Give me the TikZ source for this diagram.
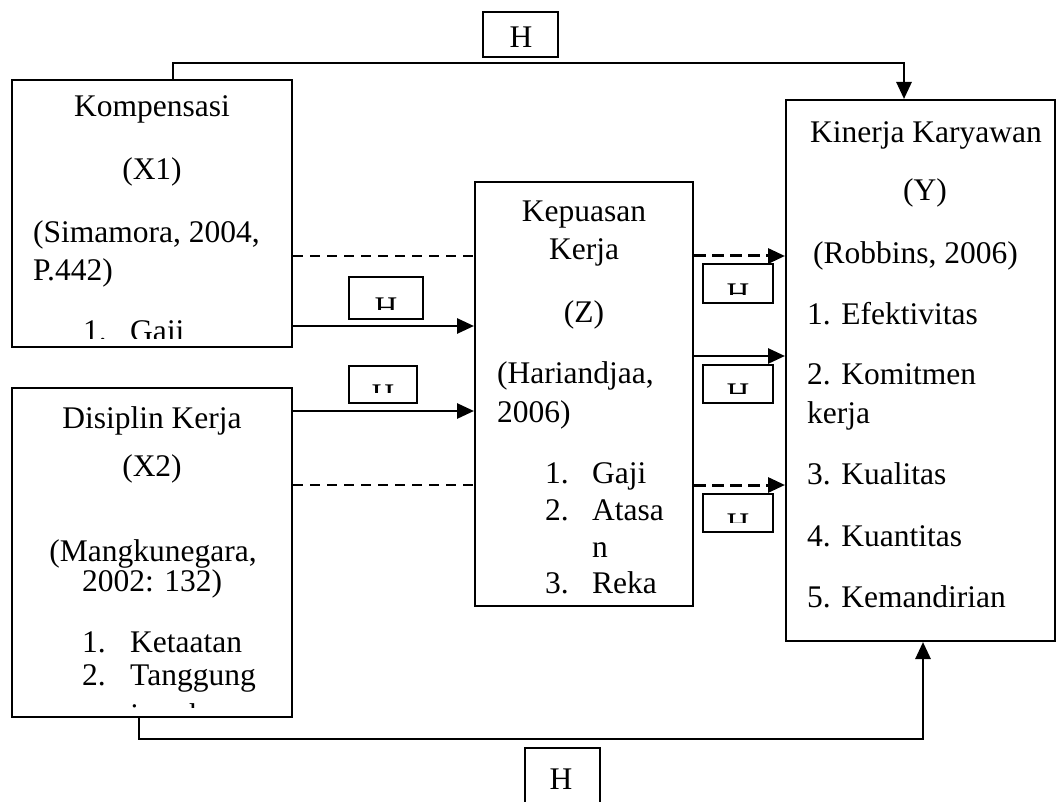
\documentclass[tikz,border=0pt]{standalone}
\usepackage{fontspec}
\setmainfont{Liberation Serif}
\usetikzlibrary{positioning,arrows.meta,calc}

\tikzset{
  >={Triangle[length=17pt,width=15pt]},
  every node/.style={font=\fontsize{31.5}{36}\selectfont},
  % --- nodes
  box/.style  = {draw, line width=2pt, inner sep=0pt},
  hbox/.style = {draw, line width=1.8pt, inner sep=0pt},
  txt/.style  = {anchor=base, inner sep=0pt},
  ltxt/.style = {anchor=base west, inner sep=0pt},
  % --- edges
  e/.style    = {->, line width=2.8pt},
  ed/.style   = {->, line width=3pt, dash pattern=on 12pt off 6pt},
  dl/.style   = {line width=1.6pt, dash pattern=on 10pt off 7pt},
}

\begin{document}
\begin{tikzpicture}[x=1pt,y=-1pt]
  \clip (0,0) rectangle (1057,802);
  \node[box, minimum width=280pt, minimum height=267pt] (x1) at (152,213.5) {};
  \node[box, minimum width=280pt, minimum height=329pt] (x2) at (152,552.5) {};
  \node[box, minimum width=218pt, minimum height=424pt] (z) at (584,394) {};
  \node[box, minimum width=269pt, minimum height=541pt] (y) at (920.5,370.5) {};

  % text of the boxes, cut where the box ends
  \begin{scope}
    \clip (x1.north west) rectangle (x1.east |- 0,338);
    \node[txt] (x1a) at (152,117) {Kompensasi};
    \node[txt] (x1b) at (152,180) {(X1)};
    \node[ltxt] (x1c) at (33,243) {(Simamora, 2004,};
    \node[ltxt] (x1d) at (33,280) {P.442)};
    \node[ltxt] (x1e) at (83,341) {1.};
    \node[ltxt] (x1f) at (130,341) {Gaji};
  \end{scope}
  \begin{scope}
    \clip (x2.north west) rectangle (x2.east |- 0,707);
    \node[txt] (x2a) at (152,428) {Disiplin Kerja};
    \node[txt] (x2b) at (152,476) {(X2)};
    \node[txt] (x2c) at (153,561) {(Mangkunegara,};
    \node[txt] (x2d) at (152,591) {2002: 132)};
    \node[ltxt] (x2e) at (82,652) {1.};
    \node[ltxt] (x2f) at (130,652) {Ketaatan};
    \node[ltxt] (x2g) at (82,685) {2.};
    \node[ltxt] (x2h) at (130,685) {Tanggung};
    \node[ltxt] (x2i) at (130,725) {jawab};
  \end{scope}
  \begin{scope}
    \clip (z.north west) rectangle (z.east |- 0,600);
    \node[txt] (za) at (584,222) {Kepuasan};
    \node[txt] (zb) at (584,260) {Kerja};
    \node[txt] (zc) at (584,322) {(Z)};
    \node[ltxt] (zd) at (497,383) {(Hariandjaa,};
    \node[ltxt] (ze) at (497,422) {2006)};
    \node[ltxt] (zf) at (545,483) {1.};
    \node[ltxt] (zg) at (592,483) {Gaji};
    \node[ltxt] (zh) at (545,520) {2.};
    \node[ltxt] (zi) at (592,520) {Atasa};
    \node[ltxt] (zj) at (592,557) {n};
    \node[ltxt] (zk) at (545,593) {3.};
    \node[ltxt] (zl) at (592,593) {Reka};
  \end{scope}
  \node[txt] (ya) at (926,143) {Kinerja Karyawan};
  \node[txt] (yb) at (925,201) {(Y)};
  \node[ltxt] (yc) at (813,264) {(Robbins, 2006)};
  \node[ltxt] (yd) at (807,324) {1. Efektivitas};
  \node[ltxt] (ye) at (807,384) {2. Komitmen};
  \node[ltxt] (yf) at (807,423) {kerja};
  \node[ltxt] (yg) at (807,484) {3. Kualitas};
  \node[ltxt] (yh) at (807,546) {4. Kuantitas};
  \node[ltxt] (yi) at (807,607) {5. Kemandirian};

  % hypothesis boxes
  \node[hbox, minimum width=75pt, minimum height=45pt] (ht) at (520.5,34.5) {};
  \node[hbox, minimum width=74pt, minimum height=42pt] (h1) at (386,298) {};
  \node[hbox, minimum width=68pt, minimum height=37pt] (h2) at (383,384.5) {};
  \node[hbox, minimum width=70pt, minimum height=39pt] (h3) at (738,283.5) {};
  \node[hbox, minimum width=70pt, minimum height=38pt] (h4) at (738,384) {};
  \node[hbox, minimum width=70pt, minimum height=38pt] (h5) at (738,513) {};
  \node[hbox, minimum width=75pt, minimum height=70pt] (hb) at (562.5,783) {};
  \node[txt] (htt) at (521,48) {H};
  \node[txt] (hbt) at (561,789) {H};
  \foreach \h/\cx/\base/\cut in {h1/386/318/309,h2/383/405/392,h3/738/304/294,
                                 h4/738/404/393,h5/738/534/522}
  {
    \begin{scope}
      \clip (\h.north west) rectangle (\h.east |- 0,\cut);
      \node[txt] (\h t) at (\cx,\base) {H};
    \end{scope}
  }

  \foreach \a/\b/\yy/\s in {x1/z/256/dl,x1/z/326/e,x2/z/411/e,x2/z/485/dl,
                            z/y/256/ed,z/y/356/e,z/y/485/ed}
    \draw[\s] (\a.east |- 0,\yy) -- (\b.west |- 0,\yy);
  \draw[e] (x1.north -| 173,0) |- (904,63) -- (y.north -| 904,0);
  \draw[e] (x2.south -| 139,0) |- (923,739) -- (y.south -| 923,0);
\end{tikzpicture}
\end{document}
